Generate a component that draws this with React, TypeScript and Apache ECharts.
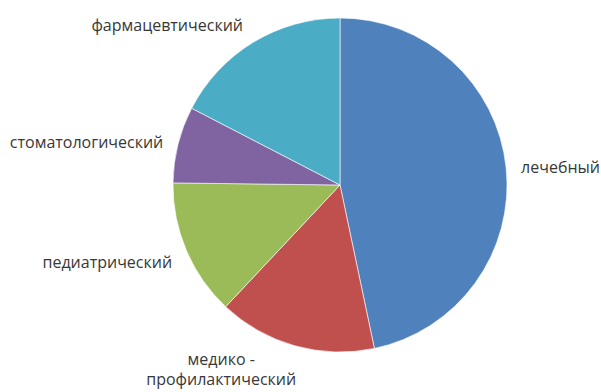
import React, { useEffect, useRef } from "react";
import * as echarts from "echarts";

const categories = [
  "лечебный",
  "медико -\nпрофилактический",
  "педиатрический",
  "стоматологический",
  "фармацевтический",
];
const values = [46.7, 15.3, 13.2, 7.4, 17.4];
const colors = ["#4F81BD", "#C0504D", "#9BBB59", "#8064A2", "#4BACC6"];

export default function App() {
  const ref = useRef<HTMLDivElement>(null);
  useEffect(() => {
    if (!ref.current) return;
    const chart = echarts.init(ref.current, null, { renderer: "svg" });
    chart.setOption({
      animation: false,
      backgroundColor: "#ffffff",
      series: [
        {
          type: "pie",
          center: [340, 185],
          radius: 167,
          startAngle: 90,
          clockwise: true,
          avoidLabelOverlap: false,
          data: categories.map((name, i) => ({
            name,
            value: values[i],
            itemStyle: { color: colors[i] },
          })),
          itemStyle: { borderColor: "#ffffff", borderWidth: 0.6 },
          label: {
            show: true,
            position: "outside",
            formatter: "{b}",
            fontFamily: "Open Sans",
            fontSize: 16,
            lineHeight: 20,
            color: "#383838",
          },
          labelLine: { show: false, length: 10, length2: 0 },
          labelLayout: (p: any) => {
            if (p.dataIndex === 1) return { align: "center", dx: -66, dy: 14 };
            if (p.dataIndex === 4) return { dy: -9 };
            if (p.dataIndex === 2) return { dy: 8 };
            return {};
          },
          emphasis: { disabled: true },
        },
      ],
    });
    return () => chart.dispose();
  }, []);
  return (
    <div
      ref={ref}
      style={{ position: "fixed", left: 0, top: 0, width: 601, height: 392 }}
    />
  );
}
